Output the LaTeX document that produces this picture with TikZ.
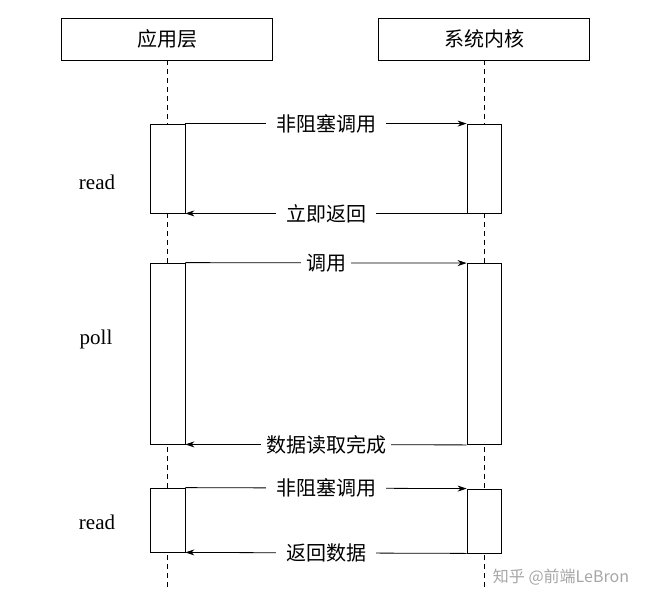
\documentclass[tikz,border=0pt]{standalone}
\usepackage{fontspec}
\setmainfont{Liberation Serif}
\newfontfamily\cjk{Noto Sans CJK SC}
\usetikzlibrary{arrows.meta}
\begin{document}
\begin{tikzpicture}[x=1pt,y=-1pt,
  hdr/.style={draw,thick,minimum width=211pt,minimum height=42pt,font=\cjk\fontsize{20}{20}\selectfont},
  act/.style={draw,thick,fill=white},
  msg/.style={thick,-{Stealth[length=9pt,width=6pt]}},
  lbl/.style={fill=white,inner ysep=3pt,inner xsep=10pt,font=\cjk\fontsize{20}{20}\selectfont},
  side/.style={font=\fontsize{21}{21}\selectfont},
  life/.style={thick,dashed,dash pattern=on 5pt off 4pt}]
\useasboundingbox (0,0) rectangle (662,606);
\node[hdr] (app) at (167,39) {应用层};
\node[hdr] (ker) at (484,39) {系统内核};
\coordinate (ae) at (167,588);
\coordinate (ke) at (484,588);
\draw[life] (app.south) -- (ae);
\draw[life] (ker.south) -- (ke);
% activation boxes
\node[act,minimum width=35pt,minimum height=89pt,inner sep=0pt] (a1) at (167.5,168.5) {};
\node[act,minimum width=34pt,minimum height=89pt,inner sep=0pt] (k1) at (484,168.5) {};
\node[act,minimum width=35pt,minimum height=181pt,inner sep=0pt] (a2) at (167.5,353.5) {};
\node[act,minimum width=34pt,minimum height=181pt,inner sep=0pt] (k2) at (484,354) {};
\node[act,minimum width=35pt,minimum height=64pt,inner sep=0pt] (a3) at (167.5,520) {};
\node[act,minimum width=34pt,minimum height=64pt,inner sep=0pt] (k3) at (484,521) {};
% messages
\draw[msg] (a1.north east) -- node[lbl]{非阻塞调用} (k1.north west);
\draw[msg] (k1.south west) -- node[lbl]{立即返回} (a1.south east);
\draw[msg] (a2.north east) -- node[lbl,inner xsep=5pt]{调用} (k2.north west);
\draw[msg] (k2.south west) -- node[lbl,inner xsep=5pt]{数据读取完成} (a2.south east);
\draw[msg] (a3.north east) -- node[lbl]{非阻塞调用} (k3.north west);
\draw[msg] (k3.south west) -- node[lbl]{返回数据} (a3.south east);
\node[side] (r1) at (97,182) {read};
\node[side] (p) at (96,339) {poll};
\node[side] (r2) at (97,522) {read};
\node[text=gray!70,font=\cjk\fontsize{16}{16}\selectfont] (wm) at (561,577) {知乎 @前端LeBron};
\end{tikzpicture}
\end{document}
